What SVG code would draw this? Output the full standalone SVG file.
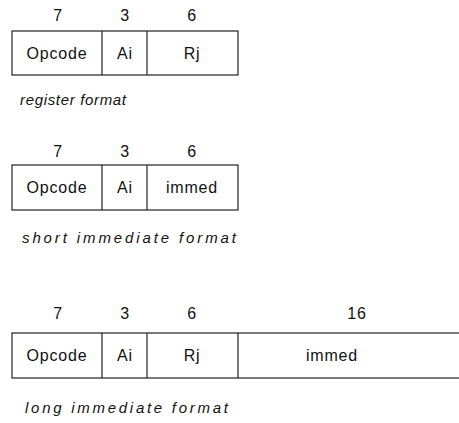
<svg xmlns="http://www.w3.org/2000/svg" width="459" height="423" viewBox="0 0 459 423">
<style>
.box{fill:#fff;stroke:#222;stroke-width:1.2}
.div{stroke:#222;stroke-width:1.2}
.t{font-family:"Liberation Sans",Arial,sans-serif;font-size:16px;fill:#111;text-anchor:middle;letter-spacing:0.8px}
.cap{font-family:"Liberation Sans",Arial,sans-serif;font-size:15px;font-style:italic;fill:#111}
</style>
<rect width="459" height="423" fill="#fff"/>
<g id="register-format">
<text class="t" x="58" y="21">7</text>
<text class="t" x="125" y="21">3</text>
<text class="t" x="192" y="21">6</text>
<rect class="box" x="12" y="31" width="226" height="44"/>
<line class="div" x1="102" y1="31" x2="102" y2="75"/>
<line class="div" x1="147" y1="31" x2="147" y2="75"/>
<text class="t" x="57" y="59">Opcode</text>
<text class="t" x="125" y="59">Ai</text>
<text class="t" x="192" y="59">Rj</text>
<text class="cap" x="20" y="105" textLength="106" lengthAdjust="spacing">register format</text>
</g>
<g id="short-immediate-format">
<text class="t" x="58" y="157">7</text>
<text class="t" x="125" y="157">3</text>
<text class="t" x="192" y="157">6</text>
<rect class="box" x="12" y="165" width="226" height="45"/>
<line class="div" x1="102" y1="165" x2="102" y2="210"/>
<line class="div" x1="147" y1="165" x2="147" y2="210"/>
<text class="t" x="57" y="193">Opcode</text>
<text class="t" x="125" y="193">Ai</text>
<text class="t" x="192" y="193">immed</text>
<text class="cap" x="22" y="243" textLength="214" lengthAdjust="spacing">short immediate format</text>
</g>
<g id="long-immediate-format">
<text class="t" x="58" y="319">7</text>
<text class="t" x="125" y="319">3</text>
<text class="t" x="192" y="319">6</text>
<text class="t" x="357" y="319">16</text>
<rect class="box" x="12" y="333" width="480" height="45"/>
<line class="div" x1="102" y1="333" x2="102" y2="378"/>
<line class="div" x1="147" y1="333" x2="147" y2="378"/>
<line class="div" x1="238" y1="333" x2="238" y2="378"/>
<text class="t" x="57" y="361">Opcode</text>
<text class="t" x="125" y="361">Ai</text>
<text class="t" x="192" y="361">Rj</text>
<text class="t" x="332" y="361">immed</text>
<text class="cap" x="25" y="413" textLength="203" lengthAdjust="spacing">long immediate format</text>
</g>
</svg>
